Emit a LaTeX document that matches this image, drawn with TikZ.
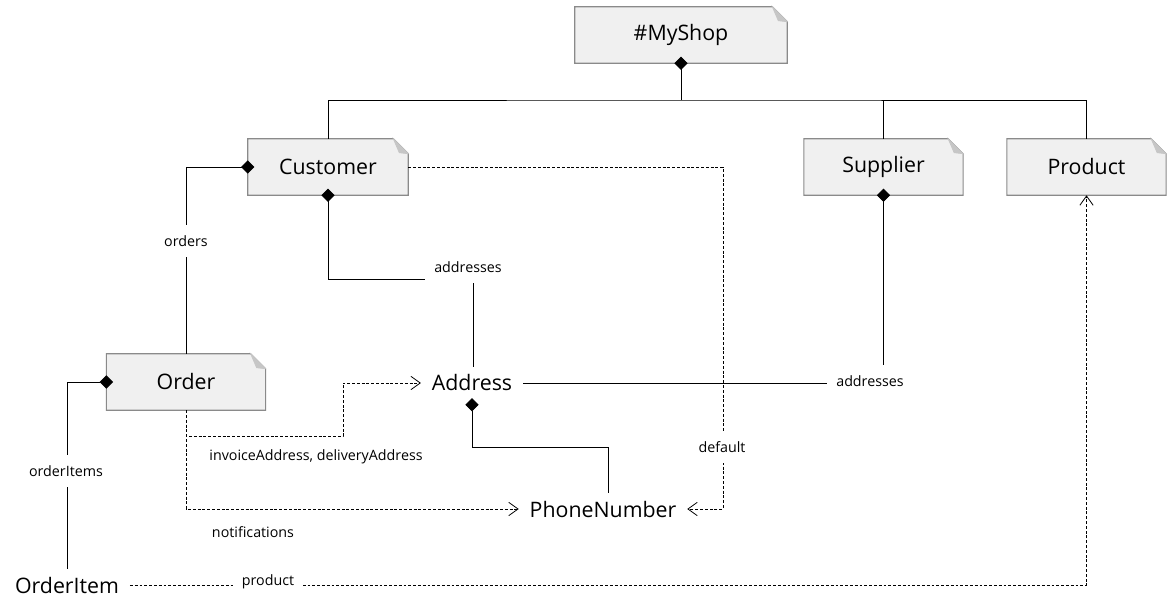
\documentclass[tikz,border=0pt]{standalone}
\usepackage{fontspec}
\setmainfont{Open Sans}
\usetikzlibrary{calc,arrows.meta,backgrounds}
\definecolor{notefill}{HTML}{F0F0F0}
\definecolor{noteline}{HTML}{8A8A8A}
\definecolor{notefold}{HTML}{C6C6C6}
\def\notebox(#1){\begin{scope}[on background layer]
	\draw[noteline, fill=notefill, line width=0.8pt] (#1.south west) -- (#1.north west) -- ($(#1.north east)+(-15,0)$) -- ($(#1.north east)+(0,15)$) -- (#1.south east) -- cycle;
	\draw[notefold, fill=notefold, line width=0.5pt] ($(#1.north east)+(-15,0)$) -- ($(#1.north east)+(-9,14)$) -- ($(#1.north east)+(0,15)$) -- cycle;
\end{scope}}

\begin{document}
\begin{tikzpicture}[x=0.75pt, y=-0.75pt,
	note/.style={minimum width=120pt, minimum height=42pt, inner sep=0pt, font=\fontsize{16pt}{19pt}\selectfont},
	cls/.style={inner xsep=8pt, inner ysep=6pt, font=\fontsize{16pt}{19pt}\selectfont},
	lbl/.style={fill=white, inner xsep=7pt, minimum height=24pt, font=\fontsize{10.7pt}{13pt}\selectfont},
	link/.style={line width=0.7pt},
	comp/.style={link, {Diamond[length=10pt,width=10pt]}-, shorten <=-5pt},
	dep/.style={line width=0.6pt, dash pattern=on 2.2pt off 1.4pt, -{Straight Barb[length=7pt,width=10pt]}}]
	%%%%% START %%%%%
	\useasboundingbox (0,0) rectangle (1174,609);
	
	\node[note, minimum width=159pt] (myshop) at (681,35) {\#MyShop};
	\node[note] (customer) at (328,167) {Customer};
	\node[note, minimum width=119pt] (supplier) at (883.5,167) {Supplier};
	\node[note, minimum width=119pt] (product) at (1086.5,167) {Product};
	\node[note, minimum width=119pt] (order) at (186,382) {Order};
	\notebox(myshop)
	\notebox(customer)
	\notebox(supplier)
	\notebox(product)
	\notebox(order)
	
	\node[cls] (address) at (472,383) {Address};
	\node[cls] (phone) at (603,509) {PhoneNumber};
	\node[cls] (orderitem) at (67,585) {OrderItem};
	
	\coordinate (bus) at (681,100);
	\coordinate (custBend) at (473,279);
	\coordinate (addrBend) at (472,447);
	\coordinate (orderBend) at (343,436);
	\coordinate (defBend) at (723,509);
	
	% composition
	\draw[comp] (myshop.south) -- (bus);
	\draw[link] (customer.north) |- (bus) -| (product.north);
	\draw[link] (supplier.north) -- (supplier.north |- bus);
	\draw[comp] (customer.west) -| (order.north);
	\draw[comp] (customer.south) |- (custBend) -- (custBend |- address.north);
	\draw[comp] (supplier.south) |- (address.east);
	\draw[comp] ([yshift=-4pt]address.south) -- (addrBend) -| ([xshift=3.75pt]phone.north);
	\draw[comp] (order.west) -| (orderitem.north);
	
	% references
	\draw[dep] (order.south) |- (orderBend) |- (address.west);
	\draw[dep] (order.south) |- (phone.west);
	\draw[dep] (customer.east) -| (defBend) -- (phone.east);
	\draw[dep] (orderitem.east) -| (product.south);
	
	\node[lbl] (lOrders) at (186,241) {orders};
	\node[lbl] (lCustAddr) at (468,267) {addresses};
	\node[lbl] (lSuppAddr) at (870,381) {addresses};
	\node[lbl] (lOrderItems) at (66,471) {orderItems};
	\node[lbl] (lInvoice) at (316,457) {invoiceAddress, deliveryAddress};
	\node[lbl] (lNotif) at (253,532) {notifications};
	\node[lbl] (lDefault) at (722,447) {default};
	\node[lbl] (lProduct) at (268,582) {product};
	
	%%%%% END %%%%%
\end{tikzpicture}
\end{document}
